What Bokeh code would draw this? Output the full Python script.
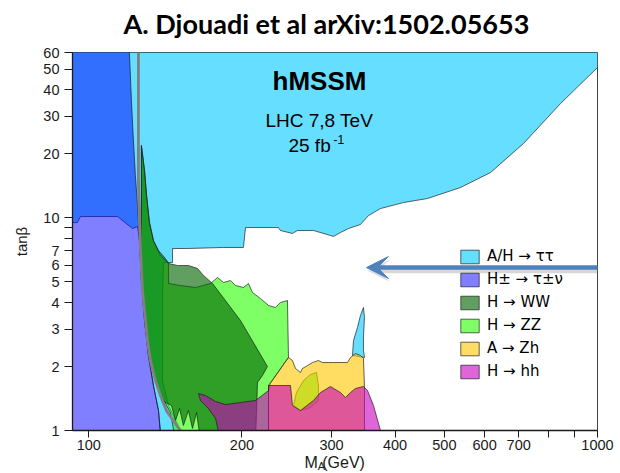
from bokeh.plotting import figure
from bokeh.models import (Range1d, FixedTicker, PrintfTickFormatter, Label, Legend,
                          LegendItem, Arrow, VeeHead)
from bokeh.embed import file_html
from bokeh.resources import INLINE

# ---------------------------------------------------------------------------
# Excluded regions of the hMSSM (M_A in GeV, tan(beta)), LHC 7+8 TeV, 25 fb^-1
# ---------------------------------------------------------------------------
# A/H -> tau tau : large region at high tan(beta) plus a small island near 340 GeV
tautau_ma = [80, 1150, 1060, 1000, 845.9, 715.4, 616.2, 537.9, 463.3, 415.5,
             374.5, 354.7, 342.0, 324.0, 312.4, 302.7, 298.6, 276.5, 257.2, 251.4,
             238.1, 236.0, 203.3, 201.4, 184.0, 156.3, 146.1, 146.1, 140.2, 139.6,
             139.6, 143.5, 151.5, 151.5, 138.6, 137.1, 134.0, 131.0, 128.7, 126.9,
             125.8, 124.7, 121.9, 113.9, 96.3, 95.0, 80]
tautau_tb = [70, 70, 56, 50.98, 34.52, 22.39, 16.35, 13.90, 12.34, 11.81,
             11.07, 10.26, 9.309, 8.916, 8.536, 8.178, 8.267, 8.727, 8.727, 8.448,
             8.727, 9.01, 9.01, 7.26, 7.26, 7.18, 7.18, 6.17, 6.17, 4.09,
             1.72, 1.31, 1.0, 0.9, 0.9, 1.242, 1.628, 2.253, 3.292, 5.077,
             7.830, 9.11, 8.916, 10.15, 10.15, 9.51, 9.51]
tautau_island_ma = [329.9, 331.4, 337.4, 342.0, 346.7, 348.3, 346.7, 346.7, 348.3]
tautau_island_tb = [2.253, 2.648, 3.050, 3.474, 3.790, 3.400, 2.738, 2.378, 2.205]

# H+- -> tau nu
hpm_ma = [80, 120.0, 120.2, 121.3, 122.4, 123.5, 124.7, 125.8, 126.9, 128.7,
          131.0, 134.0, 137.1, 138.3, 138.6, 80]
hpm_tb = [70, 70, 60, 35.7, 23.1, 15.8, 11.4, 7.83, 5.08, 3.29,
          2.25, 1.63, 1.24, 1.0, 0.9, 0.9]

# H -> WW
ww_ma = [126.9, 128.7, 129.9, 131.6, 134.0, 137.1, 141.5, 143.5, 149.4, 157.0,
         163.6, 168.1, 175.1, 198.7, 224.5, 219.5, 214.6, 212.7, 165.8, 162.9,
         159.9, 157.0, 153.5, 150.8, 148.1, 145.4, 141.0, 138.3, 135.2, 132.2,
         130.4, 129.3, 127.5, 126.4, 126.9]
ww_tb = [21.90, 16.71, 12.75, 9.514, 7.830, 7.025, 6.444, 6.104, 5.973, 5.973,
         5.781, 5.359, 4.915, 3.292, 2.000, 1.814, 1.682, 0.9, 0.9, 1.215,
         1.022, 1.242, 1.056, 1.269, 1.115, 1.311, 1.36, 1.46, 1.72, 2.13,
         2.65, 3.29, 4.56, 7.02, 12.08]

# H -> ZZ : main region plus a small island inside the A -> Zh region
zz_ma = [126.9, 128.7, 129.9, 131.6, 134.0, 138.3, 143.5, 143.5, 151.5, 162.1,
         173.5, 179.1, 184.0, 189.9, 194.3, 201.4, 206.0, 209.8, 217.5, 225.6,
         232.8, 238.1, 245.8, 246.9, 227.6, 225.6, 225.6, 148.1, 144.7, 141.0,
         138.3, 135.2, 132.2, 130.4, 129.3, 127.5, 126.4, 126.9]
zz_tb = [21.90, 16.71, 12.75, 9.514, 7.830, 6.655, 6.104, 4.915, 4.809, 4.706,
         4.915, 5.244, 4.968, 5.077, 4.809, 4.706, 4.915, 4.459, 4.177, 3.873,
         3.790, 4.001, 4.088, 2.205, 1.664, 1.542, 0.9, 0.9, 1.215, 1.36,
         1.46, 1.72, 2.13, 2.65, 3.29, 4.56, 7.02, 12.08]
zz_island_ma = [252.6, 256.0, 264.3, 272.8, 280.3, 282.8, 282.8, 272.8, 260.7]
zz_island_tb = [1.311, 1.509, 1.718, 1.834, 1.875, 1.628, 1.384, 1.283, 1.242]

# A -> Zh
zh_ma = [225.6, 246.9, 251.4, 254.9, 260.7, 263.1, 269.1, 275.3, 282.8, 288.0,
         302.7, 322.5, 326.9, 334.4, 342.0, 346.7, 348.3, 348.3, 225.6]
zh_tb = [1.628, 2.205, 2.134, 1.957, 1.875, 1.957, 2.021, 2.088, 2.134, 2.088,
         2.088, 2.088, 2.205, 2.302, 2.253, 2.182, 1.593, 0.9, 0.9]

# H -> hh
hh_ma = [164.3, 169.6, 177.5, 185.7, 198.7, 212.7, 225.6, 225.6, 249.2, 251.4,
         260.7, 276.5, 285.4, 298.6, 312.4, 319.6, 326.9, 334.4, 346.7, 353.1,
         362.8, 374.5, 378.0, 181.5, 177.5, 171.9, 165.8]
hh_tb = [1.493, 1.461, 1.369, 1.325, 1.354, 1.384, 1.542, 1.628, 1.628, 1.311,
         1.242, 1.384, 1.509, 1.611, 1.509, 1.429, 1.509, 1.576, 1.611, 1.542,
         1.311, 1.0, 0.9, 0.9, 1.139, 1.269, 1.384]

# grey boundary curve on the low-M_A side
mh_bound_ma = [125.2, 125.2, 125.8, 126.4, 127.5, 129.3, 130.4, 132.2, 135.2, 138.3,
               142.1, 146.7, 151.4, 153.0]
mh_bound_tb = [70, 15.0, 9.72, 7.02, 4.56, 3.29, 2.65, 2.13, 1.72, 1.46,
               1.24, 1.11, 1.0, 0.97]

# axis ticks
ma_ticks = [100, 200, 300, 400, 500, 600, 700, 1000]
ma_minor = [800, 900]
tb_ticks = [1, 2, 3, 4, 5, 6, 7, 10, 20, 30, 40, 50, 60]
tb_minor = [8, 9]

FONT = "Liberation Sans"

p = figure(width=620, height=473, x_axis_type="log", y_axis_type="log",
           x_range=Range1d(92.9, 1000), y_range=Range1d(1, 60),
           output_backend="svg", toolbar_location=None,
           min_border_left=72, min_border_right=23,
           min_border_top=52, min_border_bottom=43)
p.grid.visible = False
p.outline_line_color = "#444444"
p.outline_line_width = 1
p.background_fill_color = "white"
p.border_fill_color = "white"


def region(xs, ys, color, alpha):
    return p.patches(xs=xs, ys=ys, fill_color=color, fill_alpha=alpha,
                     line_color="#1a1a1a", line_width=0.9, line_alpha=0.75)


r_tau = region([tautau_ma, tautau_island_ma], [tautau_tb, tautau_island_tb], "#00C8FF", 0.6)
r_hpm = region([hpm_ma], [hpm_tb], "#0000FF", 0.5)
r_zz = region([zz_ma, zz_island_ma], [zz_tb, zz_island_tb], "#2AFF00", 0.6)
r_ww = region([ww_ma], [ww_tb], "#006400", 0.62)
r_zh = region([zh_ma], [zh_tb], "#FFC800", 0.61)
r_hh = region([hh_ma], [hh_tb], "#C800BE", 0.6)

p.line(mh_bound_ma, mh_bound_tb, line_color="#808080", line_width=2.8)

# axes
p.xaxis.ticker = FixedTicker(ticks=ma_ticks, minor_ticks=ma_minor)
p.yaxis.ticker = FixedTicker(ticks=tb_ticks, minor_ticks=tb_minor)
for ax in (p.xaxis[0], p.yaxis[0]):
    ax.formatter = PrintfTickFormatter(format="%d")
    ax.major_tick_in = 0
    ax.minor_tick_in = 0
    ax.major_label_text_font = FONT
    ax.major_label_text_font_size = "14.5px"
    ax.major_label_text_color = "#1a1a1a"
    ax.axis_line_color = "#1a1a1a"
    ax.axis_line_width = 1.3
    ax.major_tick_line_color = "#1a1a1a"
    ax.minor_tick_line_color = "#1a1a1a"
p.xaxis.major_tick_out = 7
p.xaxis.minor_tick_out = 7
p.yaxis.major_tick_out = 8
p.yaxis.minor_tick_out = 8
p.xaxis.major_label_standoff = 2
p.yaxis.major_label_standoff = 5
p.yaxis.axis_label = "tanβ"
p.yaxis.axis_label_text_font = FONT
p.yaxis.axis_label_text_font_size = "15px"
p.yaxis.axis_label_text_font_style = "normal"
p.yaxis.axis_label_text_color = "#1a1a1a"
p.yaxis.axis_label_standoff = 10


def text_label(side, **kw):
    kw.setdefault("text_font", FONT)
    kw.setdefault("text_align", "left")
    kw.setdefault("text_baseline", "middle")
    kw.setdefault("text_color", "#1a1a1a")
    if side is None:
        p.add_layout(Label(**kw))
    else:
        # texts outside the frame live in the side panels, so they are not clipped
        p.add_layout(Label(**kw), side)


# x-axis title: "M  (GeV)" below the axis, the subscript "A" slotted into the gap
text_label("below", x=265.5, y=0.704, text="M  (GeV)", text_font_size="16px")
text_label("above", x=282.0, y=0.681, text="A", text_font_size="11px")

# heading above the plot
text_label("above", x=293.2, y=82.5, text="A. Djouadi et al arXiv:1502.05653",
           text_font="Lato", text_font_style="bold", text_font_size="27px",
           text_align="center", text_color="black")

# annotations inside the frame
text_label(None, x=284.1, y=44.2, text="hMSSM", text_font_style="bold",
           text_font_size="26px", text_align="center", text_color="black")
text_label(None, x=222.5, y=28.6, text="LHC 7,8 TeV", text_font_size="19px",
           text_color="black")
text_label(None, x=246.9, y=21.8, text="25 fb", text_font_size="19px",
           text_color="black")
text_label(None, x=302.7, y=23.4, text="-1", text_font_size="12px",
           text_color="black")

legend = Legend(items=[
    LegendItem(label="A/H → ττ", renderers=[r_tau]),
    LegendItem(label="H± → τ±ν", renderers=[r_hpm]),
    LegendItem(label="H → WW", renderers=[r_ww]),
    LegendItem(label="H → ZZ", renderers=[r_zz]),
    LegendItem(label="A → Zh", renderers=[r_zh]),
    LegendItem(label="H → hh", renderers=[r_hh]),
], location=(386, 50))
legend.glyph_width = 23
legend.glyph_height = 17
legend.label_height = 17
legend.spacing = 5
legend.padding = 0
legend.margin = 0
legend.label_standoff = 6
legend.border_line_alpha = 0
legend.background_fill_alpha = 0
legend.label_text_font = "DejaVu Sans"
legend.label_text_font_size = "15px"
legend.label_text_color = "black"
legend.label_text_baseline = "middle"
p.add_layout(legend)

# pointer into the allowed window
shadow = Arrow(end=VeeHead(size=22, fill_color="#9a9a9a", fill_alpha=0.35, line_alpha=0),
               x_start=1135, y_start=5.65, x_end=353.0, y_end=5.65,
               line_color="#9a9a9a", line_alpha=0.4, line_width=5)
arrow = Arrow(end=VeeHead(size=22, fill_color="#4F81BD", line_color="#4F81BD"),
              x_start=1135, y_start=5.84, x_end=351.5, y_end=5.84,
              line_color="#4F81BD", line_width=4.5)
p.add_layout(shadow)
p.add_layout(arrow)

open("out.html", "w").write(file_html(p, INLINE))
